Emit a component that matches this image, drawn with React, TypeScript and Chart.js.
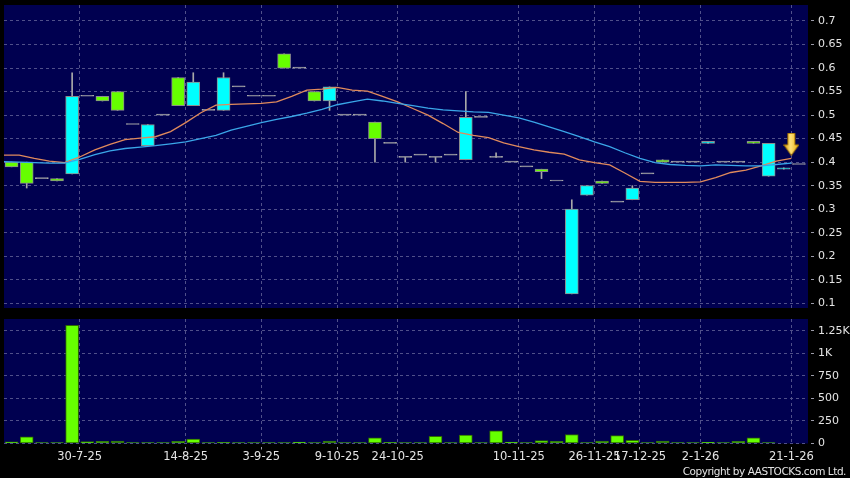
import React, { useEffect, useRef } from "react";
import { Chart, registerables } from "chart.js";

Chart.register(...registerables);

// ---- data (one entry per trading day, oldest first) ----
const OPEN = [0.4, 0.4, 0.365, 0.365, 0.375, 0.54, 0.54, 0.55, 0.48, 0.435, 0.5, 0.58, 0.52, 0.51, 0.51, 0.56, 0.54, 0.54, 0.63, 0.6, 0.55, 0.53, 0.5, 0.5, 0.485, 0.44, 0.41, 0.415, 0.41, 0.415, 0.405, 0.495, 0.41, 0.4, 0.39, 0.385, 0.36, 0.12, 0.33, 0.36, 0.315, 0.32, 0.375, 0.405, 0.4, 0.4, 0.44, 0.4, 0.4, 0.444, 0.37, 0.385, 0.395];
const HIGH = [0.4, 0.4, 0.365, 0.365, 0.59, 0.54, 0.54, 0.55, 0.48, 0.48, 0.5, 0.58, 0.59, 0.51, 0.59, 0.56, 0.54, 0.54, 0.63, 0.6, 0.55, 0.56, 0.5, 0.5, 0.485, 0.44, 0.41, 0.415, 0.41, 0.415, 0.55, 0.495, 0.42, 0.4, 0.39, 0.385, 0.36, 0.32, 0.35, 0.36, 0.315, 0.35, 0.375, 0.405, 0.4, 0.4, 0.444, 0.4, 0.4, 0.444, 0.44, 0.388, 0.395];
const LOW = [0.39, 0.345, 0.365, 0.36, 0.375, 0.54, 0.53, 0.51, 0.48, 0.435, 0.5, 0.52, 0.52, 0.51, 0.51, 0.56, 0.54, 0.54, 0.6, 0.6, 0.53, 0.51, 0.5, 0.5, 0.4, 0.44, 0.4, 0.415, 0.4, 0.415, 0.405, 0.495, 0.41, 0.4, 0.39, 0.365, 0.36, 0.12, 0.33, 0.355, 0.315, 0.32, 0.375, 0.4, 0.4, 0.4, 0.44, 0.4, 0.4, 0.44, 0.37, 0.385, 0.395];
const CLOSE = [0.39, 0.355, 0.365, 0.36, 0.54, 0.54, 0.53, 0.51, 0.48, 0.48, 0.5, 0.52, 0.57, 0.51, 0.58, 0.56, 0.54, 0.54, 0.6, 0.6, 0.53, 0.56, 0.5, 0.5, 0.45, 0.44, 0.41, 0.415, 0.41, 0.415, 0.495, 0.495, 0.41, 0.4, 0.39, 0.38, 0.36, 0.3, 0.35, 0.355, 0.315, 0.345, 0.375, 0.4, 0.4, 0.4, 0.444, 0.4, 0.4, 0.44, 0.44, 0.388, 0.395];
const VOLUME = [18, 75, 2, 2, 1310, 20, 25, 28, 2, 3, 10, 25, 48, 2, 12, 1, 1, 1, 2, 15, 2, 28, 2, 10, 62, 12, 2, 2, 80, 2, 92, 2, 140, 15, 2, 33, 25, 100, 11, 26, 88, 35, 11, 27, 1, 1, 14, 1, 24, 62, 4, 0, 0];
const MA_SHORT = [0.415, 0.415, 0.408, 0.402, 0.399, 0.411, 0.426, 0.438, 0.448, 0.451, 0.454, 0.465, 0.484, 0.505, 0.521, 0.523, 0.524, 0.525, 0.528, 0.54, 0.553, 0.555, 0.559, 0.553, 0.551, 0.54, 0.528, 0.514, 0.5, 0.482, 0.463, 0.457, 0.452, 0.441, 0.433, 0.426, 0.421, 0.417, 0.405, 0.399, 0.394, 0.377, 0.359, 0.357, 0.357, 0.357, 0.358, 0.367, 0.378, 0.383, 0.392, 0.402, 0.408];
const MA_LONG = [0.401, 0.4, 0.399, 0.398, 0.398, 0.406, 0.416, 0.424, 0.429, 0.432, 0.435, 0.439, 0.443, 0.45, 0.457, 0.468, 0.476, 0.484, 0.491, 0.497, 0.504, 0.512, 0.522, 0.528, 0.534, 0.53, 0.525, 0.52, 0.515, 0.511, 0.509, 0.507, 0.506, 0.5, 0.494, 0.485, 0.475, 0.465, 0.454, 0.443, 0.433, 0.42, 0.408, 0.399, 0.395, 0.393, 0.392, 0.394, 0.393, 0.392, 0.392, 0.395, 0.398];
const GRID_INDEX = [5, 12, 17, 22, 26, 34, 39, 42, 46, 52];
const DATE_LABELS = ["30-7-25", "14-8-25", "3-9-25", "9-10-25", "24-10-25", "10-11-25", "26-11-25", "17-12-25", "2-1-26", "21-1-26"];
const PRICE_TICKS = [0.1, 0.15, 0.2, 0.25, 0.3, 0.35, 0.4, 0.45, 0.5, 0.55, 0.6, 0.65, 0.7];
const VOLUME_TICKS = [0, 250, 500, 750, 1000, 1250];
const SIGNAL_INDEX = 52;
const SIGNAL_PRICE = 0.438;

// ---- styles ----
const NAVY = "#000050";
const GRID = "#50508a";
const TICK_MARK = "#9a9aa8";
const LABEL = "#e4e4e4";
const CYAN = "#00ffff";
const GREEN = "#66ff00";
const EDGE = "#8c8c8c";
const DOJI = "#a8a8a8";
const FONT = "DejaVu Sans";
const X_MAX = 53.1;

const plotBg = {
  id: "plotBg",
  beforeDraw(chart: any) {
    const { ctx, chartArea: a } = chart;
    ctx.save();
    ctx.fillStyle = NAVY;
    ctx.fillRect(a.left, a.top, a.right - a.left, a.bottom - a.top);
    ctx.restore();
  },
};

function makeArrow() {
  const c = document.createElement("canvas");
  c.width = 16;
  c.height = 23;
  const g = c.getContext("2d")!;
  const grad = g.createLinearGradient(0, 0, 16, 0);
  grad.addColorStop(0, "#d49400");
  grad.addColorStop(0.45, "#ffe27a");
  grad.addColorStop(1, "#e6a600");
  g.fillStyle = grad;
  g.beginPath();
  g.moveTo(4.5, 0.5);
  g.lineTo(11.5, 0.5);
  g.lineTo(11.5, 12);
  g.lineTo(15.5, 12);
  g.lineTo(8, 22.5);
  g.lineTo(0.5, 12);
  g.lineTo(4.5, 12);
  g.closePath();
  g.fill();
  g.strokeStyle = "#a87400";
  g.lineWidth = 1;
  g.stroke();
  return c;
}

function yAxisCommon(ticks: number[], fmt: (v: number) => string, min: number, max: number) {
  return {
    position: "right" as const,
    min,
    max,
    border: { display: false, dash: [3, 3] },
    grid: {
      color: GRID,
      tickLength: 6,
      tickColor: TICK_MARK,
      tickBorderDash: [3, 3],
      tickBorderDashOffset: 3,
    },
    ticks: {
      color: LABEL,
      font: { family: FONT, size: 11 },
      padding: 4,
      callback: (v: any) => fmt(Number(v)),
    },
    afterBuildTicks: (s: any) => {
      s.ticks = ticks.map((v) => ({ value: v }));
    },
    afterFit: (s: any) => {
      s.width = 42;
      s.paddingTop = 0;
      s.paddingBottom = 0;
    },
  };
}

function xGridTicks(s: any) {
  s.ticks = GRID_INDEX.map((v) => ({ value: v }));
}

export default function App() {
  const priceRef = useRef<HTMLCanvasElement>(null);
  const volRef = useRef<HTMLCanvasElement>(null);

  useEffect(() => {
    const arrow = makeArrow();
    const idx = OPEN.map((_, i) => i);
    const bodyData = idx.map((i) => ({ x: i + 0.5, y: [OPEN[i], CLOSE[i]] }));
    const bodyFill = idx.map((i) => (CLOSE[i] > OPEN[i] ? CYAN : CLOSE[i] < OPEN[i] ? GREEN : DOJI));
    const bodyEdge = idx.map((i) => (CLOSE[i] === OPEN[i] ? DOJI : EDGE));
    const wickData = idx
      .filter((i) => HIGH[i] > LOW[i])
      .map((i) => ({ x: i + 0.5, y: [LOW[i], HIGH[i]] }));
    const volData = idx.filter((i) => VOLUME[i] > 0).map((i) => ({ x: i + 0.5, y: VOLUME[i] }));

    const price = new Chart(priceRef.current!, {
      type: "bar",
      data: {
        datasets: [
          {
            type: "line",
            data: [{ x: SIGNAL_INDEX, y: SIGNAL_PRICE }],
            showLine: false,
            pointStyle: arrow as any,
            pointRadius: 8,
          } as any,
          {
            type: "line",
            data: MA_LONG.map((v, i) => ({ x: i, y: v })),
            borderColor: "#3aa6e8",
            borderWidth: 1.3,
            pointRadius: 0,
            tension: 0,
          },
          {
            type: "line",
            data: MA_SHORT.map((v, i) => ({ x: i, y: v })),
            borderColor: "#e08a5c",
            borderWidth: 1.3,
            pointRadius: 0,
            tension: 0,
          },
          {
            type: "bar",
            data: bodyData as any,
            backgroundColor: bodyFill,
            borderColor: bodyEdge,
            borderWidth: 1,
            borderSkipped: false,
            barThickness: 13,
            minBarLength: 1,
            grouped: false,
          } as any,
          {
            type: "bar",
            data: wickData as any,
            backgroundColor: DOJI,
            borderWidth: 0,
            barThickness: 1,
            grouped: false,
          } as any,
        ],
      },
      options: {
        animation: false,
        responsive: false,
        devicePixelRatio: 1,
        events: [],
        layout: { autoPadding: false, padding: { left: 4, top: 5, right: 0, bottom: 5 } },
        plugins: { legend: { display: false }, tooltip: { enabled: false } },
        scales: {
          x: {
            type: "linear",
            min: 0,
            max: X_MAX,
            offset: false,
            border: { display: false, dash: [3, 3] },
            grid: { color: GRID, drawTicks: false, offset: false },
            ticks: { display: false },
            afterBuildTicks: xGridTicks,
            afterFit: (s: any) => {
              s.height = 0;
              s.paddingLeft = 0;
              s.paddingRight = 0;
            },
          } as any,
          y: yAxisCommon(PRICE_TICKS, (v) => v.toFixed(2).replace(/0$/, ""), 0.09, 0.734) as any,
        },
      },
      plugins: [plotBg],
    });

    const volume = new Chart(volRef.current!, {
      type: "bar",
      data: {
        datasets: [
          {
            data: volData as any,
            backgroundColor: GREEN,
            borderColor: "#2f6a00",
            borderWidth: 1,
            borderSkipped: false,
            barThickness: 13,
            minBarLength: 1,
            grouped: false,
          } as any,
        ],
      },
      options: {
        animation: false,
        responsive: false,
        devicePixelRatio: 1,
        events: [],
        layout: { autoPadding: false, padding: { left: 4, top: 6, right: 0, bottom: 0 } },
        plugins: { legend: { display: false }, tooltip: { enabled: false } },
        scales: {
          x: {
            type: "linear",
            min: 0,
            max: X_MAX,
            offset: false,
            border: { display: false, dash: [3, 3] },
            grid: {
              color: GRID,
              offset: false,
              tickLength: 6,
              tickColor: TICK_MARK,
              tickBorderDash: [3, 3],
              tickBorderDashOffset: 3,
            },
            ticks: {
              color: LABEL,
              font: { family: FONT, size: 11.5 },
              padding: 1,
              autoSkip: false,
              maxRotation: 0,
              minRotation: 0,
              callback: (v: any) => {
                const k = GRID_INDEX.indexOf(Number(v));
                return k >= 0 ? DATE_LABELS[k] : "";
              },
            },
            afterBuildTicks: xGridTicks,
            afterFit: (s: any) => {
              s.height = 34.5;
              s.paddingLeft = 0;
              s.paddingRight = 0;
            },
          } as any,
          y: yAxisCommon(
            VOLUME_TICKS,
            (v) => (v >= 1000 ? `${v / 1000}K` : `${v}`),
            0,
            1380
          ) as any,
        },
      },
      plugins: [plotBg],
    });

    return () => {
      price.destroy();
      volume.destroy();
    };
  }, []);

  return (
    <div
      style={{
        position: "fixed",
        left: 0,
        top: 0,
        width: 850,
        height: 478,
        background: "#000",
        overflow: "hidden",
      }}
    >
      <canvas
        ref={priceRef}
        width={850}
        height={313}
        style={{ position: "absolute", left: 0, top: 0, width: 850, height: 313 }}
      />
      <canvas
        ref={volRef}
        width={850}
        height={165}
        style={{ position: "absolute", left: 0, top: 313, width: 850, height: 165 }}
      />
      <div
        style={{
          position: "absolute",
          right: 4,
          top: 465,
          fontFamily: FONT,
          fontSize: 10.5,
          letterSpacing: "-0.45px",
          lineHeight: "13px",
          color: LABEL,
          whiteSpace: "nowrap",
        }}
      >
        Copyright by AASTOCKS.com Ltd.
      </div>
    </div>
  );
}
